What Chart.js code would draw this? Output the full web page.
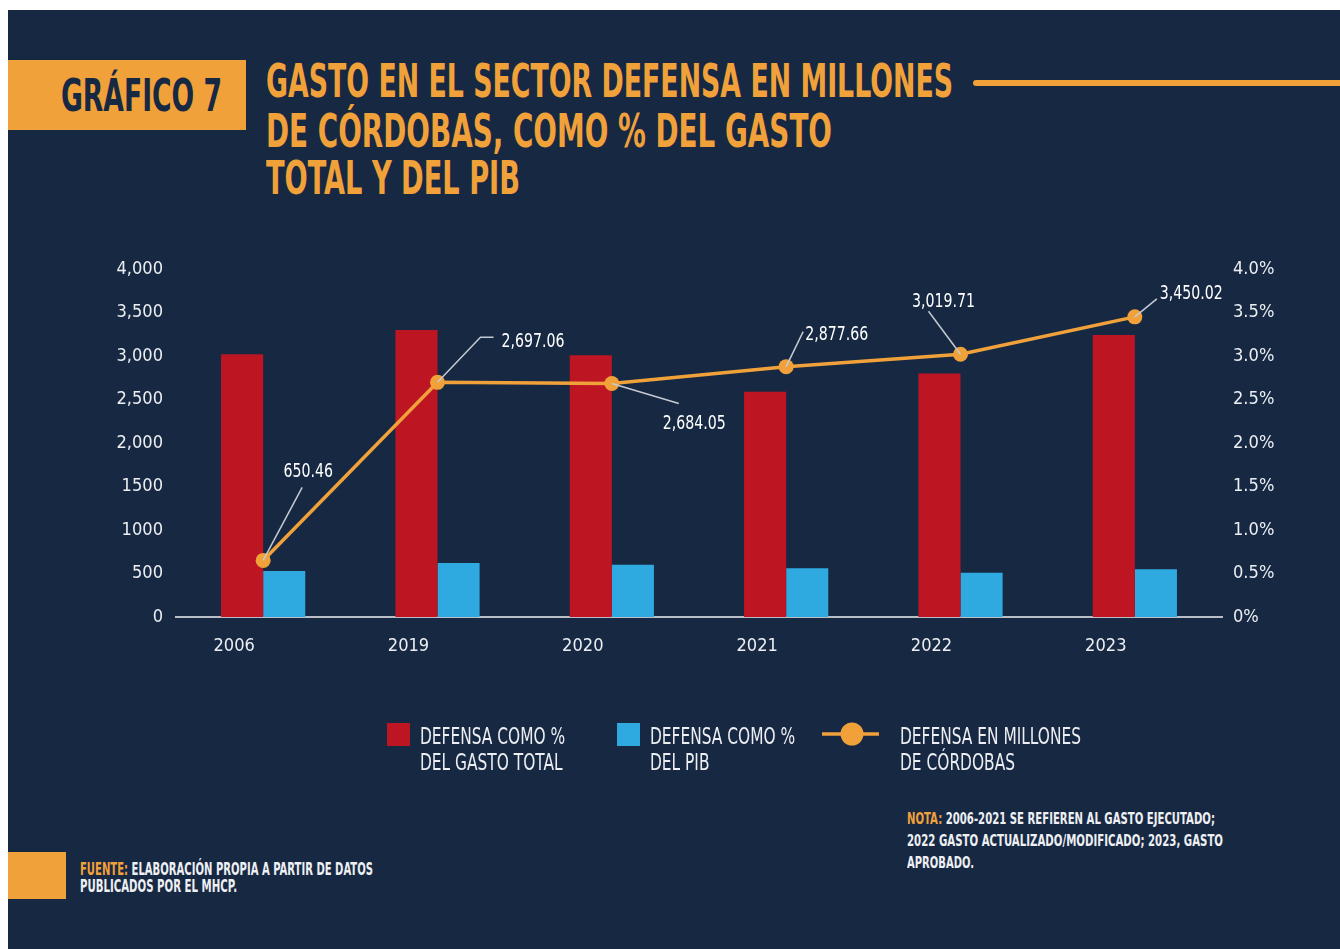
<!DOCTYPE html>
<html><head><meta charset="utf-8">
<script src="https://cdn.jsdelivr.net/npm/chart.js@4.4.1/dist/chart.umd.min.js"></script>
<style>
html,body{margin:0;padding:0;background:#ffffff;width:1340px;height:949px;overflow:hidden;}
#panel{position:absolute;left:8px;top:10px;width:1332px;height:939px;background:#172843;}
.t{position:absolute;white-space:nowrap;line-height:1;transform-origin:0 0;}
.box{position:absolute;background:#F1A13A;}
#c{position:absolute;left:0;top:0;}
</style>
</head><body>
<div id="panel"></div>
<div class="box" style="left:8px;top:60px;width:238px;height:70px;"></div>
<div class="box" style="left:973px;top:80px;width:367px;height:6px;border-radius:3px 0 0 3px;"></div>
<div class="box" style="left:8px;top:852px;width:58px;height:47px;"></div>

<div class="t" id="badge" data-w="161" data-cap="33" data-x="61" data-y="78" style="color:#172843;font-weight:bold;">GRÁFICO 7</div>
<div class="t" data-w="687" data-cap="34" data-x="266" data-y="63" style="color:#F1A13A;font-weight:bold;">GASTO EN EL SECTOR DEFENSA EN MILLONES</div>
<div class="t" data-w="566" data-cap="34" data-x="266" data-y="113" style="color:#F1A13A;font-weight:bold;">DE CÓRDOBAS, COMO % DEL GASTO</div>
<div class="t" data-w="254" data-cap="34" data-x="266" data-y="160" style="color:#F1A13A;font-weight:bold;">TOTAL Y DEL PIB</div>

<div class="t" data-w="293" data-cap="12.5" data-x="80" data-y="863" style="color:#eef0f3;font-weight:bold;"><span style="color:#F1A13A">FUENTE:</span> ELABORACIÓN PROPIA A PARTIR DE DATOS</div>
<div class="t" data-w="157" data-cap="12.5" data-x="80" data-y="880" style="color:#eef0f3;font-weight:bold;">PUBLICADOS POR EL MHCP.</div>

<div class="t" data-w="308" data-cap="12" data-x="907" data-y="813" style="color:#eef0f3;font-weight:bold;"><span style="color:#F1A13A">NOTA:</span> 2006-2021 SE REFIEREN AL GASTO EJECUTADO;</div>
<div class="t" data-w="316" data-cap="12" data-x="907" data-y="835" style="color:#eef0f3;font-weight:bold;">2022 GASTO ACTUALIZADO/MODIFICADO; 2023, GASTO</div>
<div class="t" data-w="67" data-cap="12" data-x="907" data-y="857" style="color:#eef0f3;font-weight:bold;">APROBADO.</div>

<canvas id="c" width="1340" height="949"></canvas>
<script>
// ---------------- DATA ----------------
const categories = ['2006', '2019', '2020', '2021', '2022', '2023'];
const pctGastoTotal = [3.02, 3.30, 3.01, 2.59, 2.80, 3.24];      // % del gasto total (eje derecho)
const pctPIB = [0.53, 0.62, 0.60, 0.56, 0.51, 0.55];             // % del PIB (eje derecho)
const millonesCordobas = [650.46, 2697.06, 2684.05, 2877.66, 3019.71, 3450.02]; // eje izquierdo
const pointLabels = ['650.46', '2,697.06', '2,684.05', '2,877.66', '3,019.71', '3,450.02'];
const leftTickLabels = ['0', '500', '1000', '1500', '2,000', '2,500', '3,000', '3,500', '4,000'];
const rightTickLabels = ['0%', '0.5%', '1.0%', '1.5%', '2.0%', '2.5%', '3.0%', '3.5%', '4.0%'];
const seriesNames = [
  ['DEFENSA COMO %', 'DEL GASTO TOTAL'],
  ['DEFENSA COMO %', 'DEL PIB'],
  ['DEFENSA EN MILLONES', 'DE CÓRDOBAS']
];

// ---------------- STYLE ----------------
const RED = '#BE1522', BLUE = '#2EAAE1', ORANGE = '#F1A13A', TXT = '#eceef2', LEADER = '#c6cad1';

function hasFont(name){
  const c = document.createElement('canvas').getContext('2d');
  const s = 'ABCDEFGHIJKLMN 0123456789 %,.';
  let diff = false;
  ['monospace','serif'].forEach(fb=>{
    c.font = '40px ' + fb; const a = c.measureText(s).width;
    c.font = '40px "' + name + '", ' + fb; const b = c.measureText(s).width;
    if (Math.abs(a-b) > 0.5) diff = true;
  });
  return diff;
}
const FAMILY = hasFont('Liberation Sans Narrow') ? '"Liberation Sans Narrow"' :
               (hasFont('DejaVu Sans Condensed') ? '"DejaVu Sans Condensed"' : 'Roboto');
const CAP = FAMILY.indexOf('DejaVu') >= 0 ? 0.729 : 0.716;
const CAPTOP = FAMILY.indexOf('DejaVu') >= 0 ? 0.117 : 0.13;

// HTML text placement & condensing
document.querySelectorAll('.t').forEach(el=>{
  const cap = parseFloat(el.dataset.cap), fs = cap / CAP;
  el.style.fontFamily = FAMILY + ', sans-serif';
  el.style.fontSize = fs + 'px';
  el.style.left = el.dataset.x + 'px';
  el.style.top = (parseFloat(el.dataset.y) - CAPTOP * fs) + 'px';
  const nw = el.getBoundingClientRect().width;
  el.style.transform = 'scaleX(' + (parseFloat(el.dataset.w) / nw) + ')';
});

// leader-line layout for the value labels (pixel offsets from each point)
const labelLayout = [
  {lx: 39, ly: -73, tx: 45, ty: -90, align: 'center'},
  {lx: 43, ly: -45, hx: 56, tx: 64, ty: -42, align: 'left'},
  {lx: 67, ly: 20, tx: 51, ty: 39, align: 'left'},
  {lx: 17, ly: -35, tx: 19, ty: -34, align: 'left'},
  {lx: -32, ly: -43, tx: -17, ty: -54, align: 'center'},
  {lx: 22, ly: -18, tx: 25, ty: -25, align: 'left'}
];

function condensedText(ctx, text, x, y, sx, align){
  const w = ctx.measureText(text).width * sx;
  let x0 = x;
  if (align === 'center') x0 = x - w/2;
  else if (align === 'right') x0 = x - w;
  ctx.save();
  ctx.translate(x0, y);
  ctx.scale(sx, 1);
  ctx.textAlign = 'left';
  ctx.fillText(text, 0, 0);
  ctx.restore();
}

const valueLabelPlugin = {
  id: 'valueLabels',
  afterDatasetsDraw(chart){
    const ctx = chart.ctx;
    const meta = chart.getDatasetMeta(2);
    const fs = 14 / CAP;
    ctx.save();
    ctx.font = fs + 'px ' + FAMILY;
    const sx = 63 / ctx.measureText('2,697.06').width;
    meta.data.forEach((pt, i)=>{
      const L = labelLayout[i];
      ctx.strokeStyle = LEADER; ctx.lineWidth = 1.5;
      ctx.beginPath();
      ctx.moveTo(pt.x, pt.y);
      ctx.lineTo(pt.x + L.lx, pt.y + L.ly);
      if (L.hx !== undefined) ctx.lineTo(pt.x + L.hx, pt.y + L.ly);
      ctx.stroke();
      ctx.fillStyle = '#ffffff';
      ctx.textBaseline = 'alphabetic';
      condensedText(ctx, pointLabels[i], pt.x + L.tx, pt.y + L.ty + 7, sx, L.align);
    });
    ctx.restore();
  }
};

const legendLayout = {markerX: [387, 617, 822], textX: [420, 650, 900], baseline: [744, 770], markerY: 723};
const legendPlugin = {
  id: 'customLegend',
  afterDraw(chart){
    const ctx = chart.ctx;
    const fs = 17 / CAP;
    ctx.save();
    ctx.font = fs + 'px ' + FAMILY;
    const sx = 181 / ctx.measureText(seriesNames[2][0]).width;
    chart.data.datasets.forEach((ds, i)=>{
      const mx = legendLayout.markerX[i];
      if (ds.type === 'line'){
        ctx.strokeStyle = ds.borderColor; ctx.lineWidth = 3.5;
        ctx.beginPath(); ctx.moveTo(mx, 734); ctx.lineTo(mx + 57, 734); ctx.stroke();
        ctx.fillStyle = ds.borderColor;
        ctx.beginPath(); ctx.arc(mx + 30, 734, 11.5, 0, Math.PI*2); ctx.fill();
      } else {
        ctx.fillStyle = ds.backgroundColor;
        ctx.fillRect(mx, legendLayout.markerY, 23, 23);
      }
      ctx.fillStyle = TXT;
      ctx.textBaseline = 'alphabetic';
      seriesNames[i].forEach((line, j)=>{
        condensedText(ctx, line, legendLayout.textX[i], legendLayout.baseline[j], sx, 'left');
      });
    });
    ctx.restore();
  }
};

const tickFont = {family: FAMILY, size: 13.2 / CAP};

new Chart(document.getElementById('c'), {
  data: {
    labels: categories,
    datasets: [
      {type: 'bar', label: seriesNames[0].join(' '), data: pctGastoTotal, backgroundColor: RED,
       yAxisID: 'yR', order: 2, categoryPercentage: 0.483, barPercentage: 1.0, borderWidth: 0},
      {type: 'bar', label: seriesNames[1].join(' '), data: pctPIB, backgroundColor: BLUE,
       yAxisID: 'yR', order: 2, categoryPercentage: 0.483, barPercentage: 1.0, borderWidth: 0},
      {type: 'line', label: seriesNames[2].join(' '), data: millonesCordobas, borderColor: ORANGE,
       backgroundColor: ORANGE, borderWidth: 3.5, pointRadius: 7.5, pointBackgroundColor: ORANGE,
       pointBorderWidth: 0, yAxisID: 'yL', order: 1, tension: 0}
    ]
  },
  options: {
    responsive: false,
    animation: false,
    devicePixelRatio: 1,
    layout: {padding: {top: 269, left: 0, right: 0, bottom: 0}},
    plugins: {legend: {display: false}, tooltip: {enabled: false}, title: {display: false}},
    scales: {
      x: {
        type: 'category', offset: true,
        grid: {display: false, drawTicks: false},
        border: {display: true, color: '#b9bdc6', width: 2},
        ticks: {color: TXT, font: tickFont, padding: 18, labelOffset: -29, maxRotation: 0, autoSkip: false},
        afterFit(a){ a.height = 332; }
      },
      yL: {
        type: 'linear', position: 'left', min: 0, max: 4000,
        grid: {display: false, drawTicks: false}, border: {display: false},
        ticks: {stepSize: 500, color: TXT, font: tickFont, padding: 13,
                callback: (v, i) => leftTickLabels[i]},
        afterFit(a){ a.width = 176; }
      },
      yR: {
        type: 'linear', position: 'right', min: 0, max: 4,
        grid: {display: false, drawTicks: false}, border: {display: false},
        ticks: {stepSize: 0.5, color: TXT, font: tickFont, padding: 11,
                callback: (v, i) => rightTickLabels[i]},
        afterFit(a){ a.width = 118; }
      }
    }
  },
  plugins: [valueLabelPlugin, legendPlugin]
});
</script>
</body></html>
